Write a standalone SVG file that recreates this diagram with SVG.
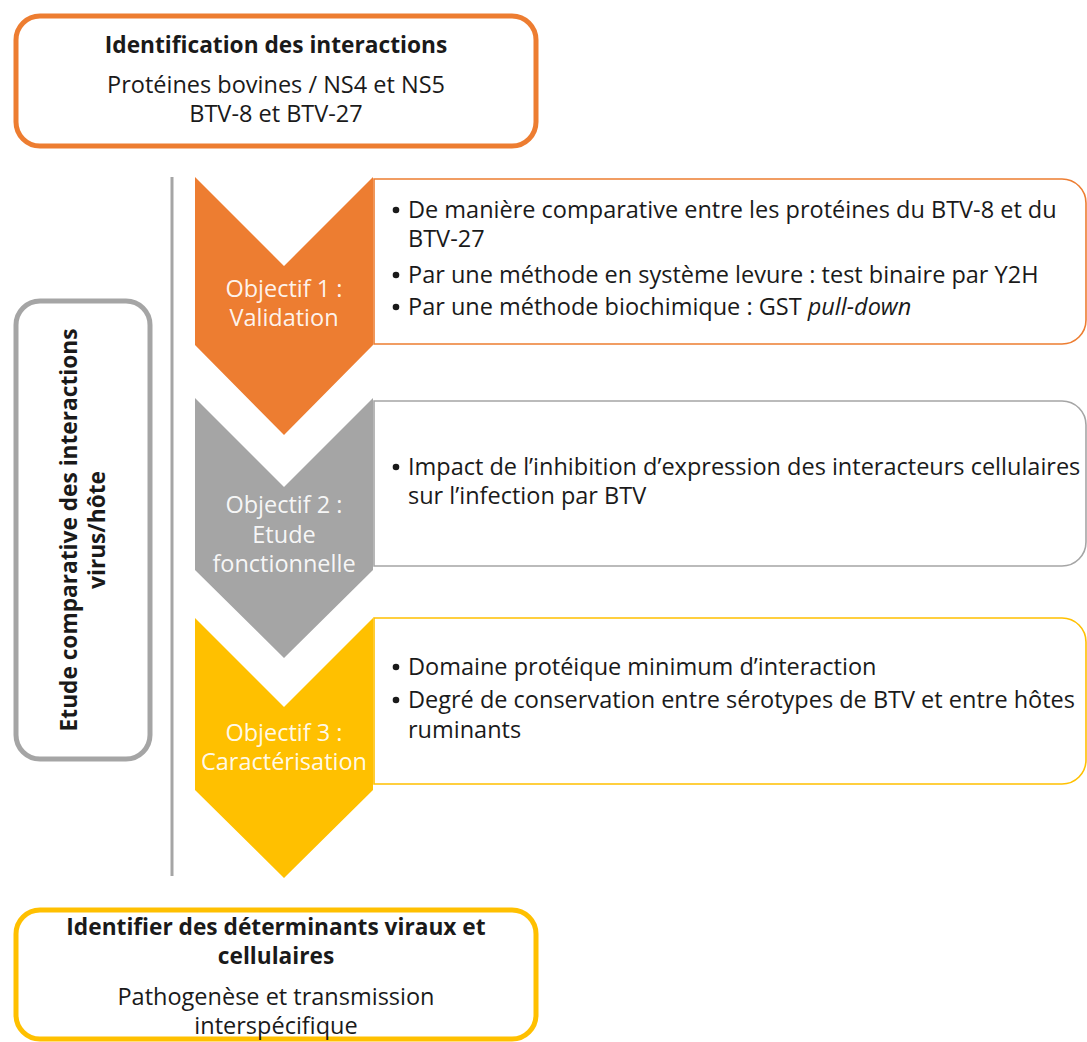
<svg xmlns="http://www.w3.org/2000/svg" width="1087" height="1042" viewBox="0 0 1087 1042">
<style>
.t{font-family:"Open Sans","Noto Sans","DejaVu Sans",sans-serif;font-size:23.5px;fill:#1a1a1a}
.b{font-weight:700;font-size:22.7px}
.c{text-anchor:middle}
.w{fill:#fff;fill-opacity:0.93;text-anchor:middle}
.frame{fill:#fff;stroke-width:5}
.panel{fill:#fff;stroke-width:1.6}
.dot{fill:#1a1a1a}
</style>
<rect width="1087" height="1042" fill="#fff"/>
<g id="connectors">
<line x1="172" y1="177" x2="172" y2="876" stroke="#A5A5A5" stroke-width="3"/>
</g>
<g id="top-box">
<rect class="frame" x="16" y="16" width="520" height="130" rx="24" stroke="#ED7D31"/>
<text class="t b c" x="276" y="53">Identification des interactions</text>
<text class="t c" x="276" y="93">Protéines bovines / NS4 et NS5</text>
<text class="t c" x="276" y="122">BTV-8 et BTV-27</text>
</g>
<g id="left-box">
<rect class="frame" x="16" y="301" width="134" height="458" rx="24" stroke="#A5A5A5"/>
<text class="t b c" x="77" y="530" transform="rotate(-90 77 530)">Etude comparative des interactions</text>
<text class="t b c" x="105" y="530" transform="rotate(-90 105 530)">virus/hôte</text>
</g>
<g id="panel-1">
<path class="panel" d="M374,179 H1062 A24,24 0 0 1 1086,203 V320 A24,24 0 0 1 1062,344 H374 Z" stroke="#ED7D31"/>
<circle class="dot" cx="396" cy="210" r="3.3"/>
<text class="t" x="408" y="218">De manière comparative entre les protéines du BTV-8 et du</text>
<text class="t" x="408" y="247">BTV-27</text>
<circle class="dot" cx="396" cy="275" r="3.3"/>
<text class="t" x="408" y="283">Par une méthode en système levure : test binaire par Y2H</text>
<circle class="dot" cx="396" cy="307" r="3.3"/>
<text class="t" x="408" y="315">Par une méthode biochimique : GST <tspan font-style="italic">pull-down</tspan></text>
</g>
<g id="panel-2">
<path class="panel" d="M374,401 H1062 A24,24 0 0 1 1086,425 V542 A24,24 0 0 1 1062,566 H374 Z" stroke="#A5A5A5"/>
<circle class="dot" cx="396" cy="467" r="3.3"/>
<text class="t" x="408" y="475">Impact de l’inhibition d’expression des interacteurs cellulaires</text>
<text class="t" x="408" y="504">sur l’infection par BTV</text>
</g>
<g id="panel-3">
<path class="panel" d="M374,618 H1062 A24,24 0 0 1 1086,642 V760 A24,24 0 0 1 1062,784 H374 Z" stroke="#FFC000"/>
<circle class="dot" cx="396" cy="667" r="3.3"/>
<text class="t" x="408" y="675">Domaine protéique minimum d’interaction</text>
<circle class="dot" cx="396" cy="700" r="3.3"/>
<text class="t" x="408" y="708">Degré de conservation entre sérotypes de BTV et entre hôtes</text>
<text class="t" x="408" y="738">ruminants</text>
</g>
<g id="objectif-1">
<polygon points="195,177 284,266 373,177 373,345 284,435 195,345" fill="#ED7D31"/>
<text class="t w" x="284" y="297">Objectif 1 :</text>
<text class="t w" x="284" y="326">Validation</text>
</g>
<g id="objectif-2">
<polygon points="195,398 284,487 373,398 373,570 284,658 195,570" fill="#A5A5A5"/>
<text class="t w" x="284" y="513">Objectif 2 :</text>
<text class="t w" x="284" y="543">Etude</text>
<text class="t w" x="284" y="572">fonctionnelle</text>
</g>
<g id="objectif-3">
<polygon points="195,618 284,707 373,618 373,790 284,878 195,790" fill="#FFC000"/>
<text class="t w" x="284" y="741">Objectif 3 :</text>
<text class="t w" x="284" y="770">Caractérisation</text>
</g>
<g id="bottom-box">
<rect class="frame" x="16" y="910" width="520" height="129" rx="24" stroke="#FFC000"/>
<text class="t b c" x="276" y="935">Identifier des déterminants viraux et</text>
<text class="t b c" x="276" y="964">cellulaires</text>
<text class="t c" x="276" y="1005">Pathogenèse et transmission</text>
<text class="t c" x="276" y="1034">interspécifique</text>
</g>
</svg>
